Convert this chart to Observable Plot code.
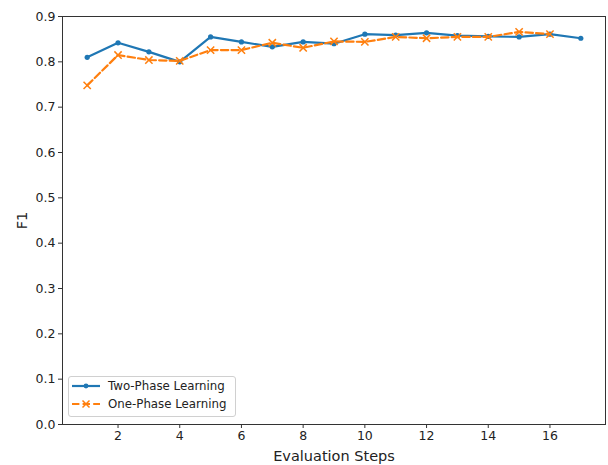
<!DOCTYPE html>
<html>
<head>
<meta charset="utf-8">
<script src="https://cdn.jsdelivr.net/npm/d3@7"></script>
<script src="https://cdn.jsdelivr.net/npm/@observablehq/plot@0.6"></script>
<style>
  html, body { margin: 0; padding: 0; background: #fff; }
  #wrap { position: relative; width: 608px; height: 465px; font-family: "DejaVu Sans", sans-serif; }
  #legend { position: absolute; left: 68px; top: 376px; width: 168px; height: 41px; box-sizing: border-box;
            border: 1px solid #d0d0d0; border-radius: 3px; background: rgba(255,255,255,0.85);
            font-size: 11.8px; color: #222; }
  .row { position: absolute; left: 3px; height: 14px; display: flex; align-items: center; }
  .row span { margin-left: 8px; white-space: nowrap; }
</style>
</head>
<body>
<div id="wrap"></div>
<script>
const steps = [1,2,3,4,5,6,7,8,9,10,11,12,13,14,15,16,17];
const twoPhase = [0.810,0.842,0.822,0.800,0.855,0.844,0.833,0.844,0.840,0.861,0.859,0.864,0.858,0.856,0.855,0.861,0.852];
const onePhaseSteps = [1,2,3,4,5,6,7,8,9,10,11,12,13,14,15,16];
const onePhase = [0.748,0.815,0.804,0.802,0.826,0.826,0.842,0.831,0.845,0.844,0.855,0.852,0.855,0.855,0.866,0.861];
const xTicks = [2,4,6,8,10,12,14,16];
const yTicks = [0,0.1,0.2,0.3,0.4,0.5,0.6,0.7,0.8,0.9];
const seriesNames = ["Two-Phase Learning", "One-Phase Learning"];
const colors = ["#1f77b4", "#ff7f0e"];

const two = steps.map((s, i) => ({x: s, y: twoPhase[i]}));
const one = onePhaseSteps.map((s, i) => ({x: s, y: onePhase[i]}));

const chart = Plot.plot({
  width: 608,
  height: 465,
  marginLeft: 62,
  marginRight: 3,
  marginTop: 16,
  marginBottom: 41,
  style: {fontFamily: "DejaVu Sans, sans-serif", fontSize: "12.5px", color: "#222", background: "#fff"},
  x: {domain: [0.2, 17.8]},
  y: {domain: [0, 0.9]},
  marks: [
    Plot.axisX({ticks: xTicks, tickSize: 4, tickPadding: 3, tickFormat: d => d, label: null, fontSize: 12.5, stroke: "#333"}),
    Plot.axisX({ticks: [], tickSize: 0, label: "Evaluation Steps", labelAnchor: "center", labelArrow: "none", labelOffset: 36, fontSize: 14.5}),
    Plot.axisY({ticks: yTicks, tickSize: 4, tickPadding: 3, tickFormat: d3.format(".1f"), label: null, fontSize: 12.5, stroke: "#333"}),
    Plot.axisY({ticks: [], tickSize: 0, label: "F1", labelAnchor: "center", labelArrow: "none", labelOffset: 46, fontSize: 14.5}),
    Plot.line(two, {x: "x", y: "y", stroke: colors[0], strokeWidth: 2.2}),
    Plot.dot(two, {x: "x", y: "y", fill: colors[0], r: 2.6, stroke: "none"}),
    Plot.line(one, {x: "x", y: "y", stroke: colors[1], strokeWidth: 2.2, strokeDasharray: "7.4,3.2"}),
    Plot.dot(one, {x: "x", y: "y", symbol: "times", stroke: colors[1], r: 3.4, strokeWidth: 1.5}),
    Plot.frame({stroke: "#333", strokeWidth: 1})
  ]
});
const wrap = document.getElementById("wrap");
wrap.appendChild(chart);

const legend = document.createElement("div");
legend.id = "legend";
const tops = [1.7, 20.3];
seriesNames.forEach((name, i) => {
  const row = document.createElement("div");
  row.className = "row";
  row.style.top = tops[i] + "px";
  const ns = "http://www.w3.org/2000/svg";
  const svg = document.createElementNS(ns, "svg");
  svg.setAttribute("width", 28); svg.setAttribute("height", 14);
  const line = document.createElementNS(ns, "line");
  line.setAttribute("x1", 0); line.setAttribute("x2", 28); line.setAttribute("y1", 7); line.setAttribute("y2", 7);
  line.setAttribute("stroke", colors[i]); line.setAttribute("stroke-width", 2.2);
  if (i === 1) line.setAttribute("stroke-dasharray", "7.4,3.2");
  svg.appendChild(line);
  if (i === 0) {
    const c = document.createElementNS(ns, "circle");
    c.setAttribute("cx", 14); c.setAttribute("cy", 7); c.setAttribute("r", 2.4); c.setAttribute("fill", colors[0]);
    svg.appendChild(c);
  } else {
    const p = document.createElementNS(ns, "path");
    p.setAttribute("d", "M10.5,3.5L17.5,10.5M17.5,3.5L10.5,10.5");
    p.setAttribute("stroke", colors[1]); p.setAttribute("stroke-width", 1.5);
    svg.appendChild(p);
  }
  row.appendChild(svg);
  const t = document.createElement("span");
  t.textContent = name;
  row.appendChild(t);
  legend.appendChild(row);
});
wrap.appendChild(legend);
</script>
</body>
</html>
